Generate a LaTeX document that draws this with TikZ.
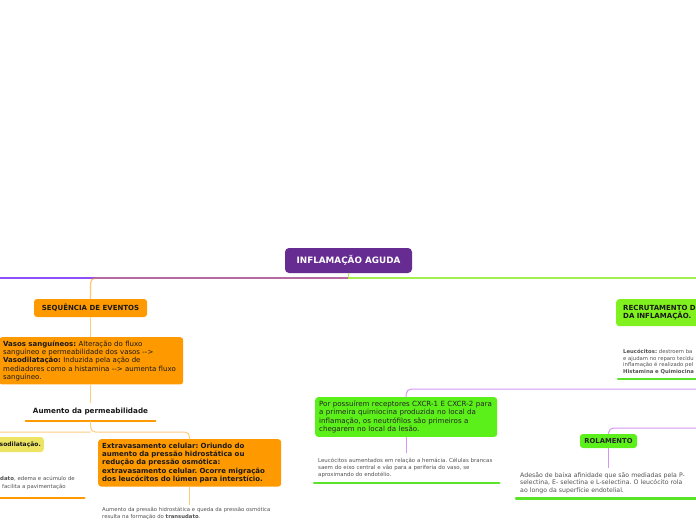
\documentclass[tikz,border=0pt]{standalone}
\usepackage{fontspec}
\setmainfont{DejaVu Sans}
\usepackage{xcolor}
\usetikzlibrary{positioning}
\definecolor{rootpurple}{RGB}{102,44,145}
\definecolor{evorange}{RGB}{255,153,0}
\definecolor{paleorange}{RGB}{255,205,130}
\definecolor{branchpurple}{RGB}{140,80,250}
\definecolor{branchgreen}{RGB}{165,238,80}
\definecolor{recrugreen}{RGB}{128,240,30}
\definecolor{neutgreen}{RGB}{92,240,26}
\definecolor{ulgreen}{RGB}{90,228,40}
\definecolor{lilac}{RGB}{212,150,245}
\definecolor{vasoyellow}{RGB}{238,228,100}
\definecolor{notegray}{RGB}{80,80,80}
\newcommand{\fsz}[2]{\fontsize{#1}{#2}\selectfont}
\frenchspacing

\begin{document}
\begin{tikzpicture}[x=1pt, y=-1pt,
    rootbox/.style={fill=rootpurple, text=white, rounded corners=4pt, minimum width=127pt, minimum height=25pt, font=\fsz{8.8}{10}\bfseries},
    orangebox/.style={fill=evorange, rounded corners=3pt, text=black!90},
    yellowbox/.style={fill=vasoyellow, rounded corners=3pt, text=black!90},
    greenbox/.style={fill=recrugreen, rounded corners=3pt, text=black!90},
    neutbox/.style={fill=neutgreen, rounded corners=3pt, text=black!85},
    notetext/.style={text=notegray, align=left, inner xsep=4pt},
    orangeline/.style={draw=paleorange, line width=1pt, rounded corners=5pt},
    lilacline/.style={draw=lilac, line width=1pt, rounded corners=5pt},
    orangeul/.style={draw=evorange, line width=2.5pt, line cap=round},
    greenul/.style={draw=ulgreen, line width=2.5pt, line cap=round}
]
\useasboundingbox (0,0) rectangle (696,520);

\node[rootbox] (root) at (348.5,260.5) {INFLAMAÇÃO AGUDA};

\node[orangebox, minimum width=113pt, minimum height=18pt, font=\fsz{7}{8}\bfseries] (seq) at (90.5,308) {SEQUÊNCIA DE EVENTOS};
\node[orangebox, anchor=north west, text width=176pt, inner xsep=4pt, inner ysep=3.5pt, align=left, font=\fsz{7}{8.3}] (vasos) at (-1,337) {\textbf{Vasos sanguíneos:} Alteração do fluxo\\ sanguíneo e permeabilidade dos vasos -{}->\\ \textbf{Vasodilatação:} Induzida pela ação de\\ mediadores como a histamina -{}-> aumenta fluxo\\ sanguíneo.};
\node[minimum width=129pt, minimum height=18pt, text=black!90, font=\fsz{7.2}{8}\bfseries] (perm) at (90.5,412) {Aumento da permeabilidade};
\node[yellowbox, anchor=east, text width=90pt, inner xsep=3pt, minimum height=15pt, align=right, font=\fsz{6}{8}\bfseries] (vasod) at (44,444.5) {sodilatação.};
\node[notetext, anchor=south west, text width=84pt, inner xsep=0pt, inner ysep=8pt, font=\fsz{5.4}{8.5}] (exsud) at (0,498) {\textbf{dato}, edema e acúmulo de\\ \hspace*{2pt}facilita a pavimentação};
\node[orangebox, anchor=north west, text width=175pt, inner xsep=4pt, inner ysep=3.5pt, align=left, font=\fsz{7}{8.4}\bfseries] (extr) at (98,439) {Extravasamento celular: Oriundo do\\ aumento da pressão hidrostática ou\\ redução da pressão osmótica:\\ extravasamento celular. Ocorre migração\\ dos leucócitos do lúmen para interstício.};
\node[notetext, anchor=north west, text width=182pt, inner ysep=2.5pt, font=\fsz{5.3}{6.8}] (trans) at (98,505) {Aumento da pressão hidrostática e queda da pressão osmótica\\ resulta na formação do \textbf{transudato}.};

\node[greenbox, anchor=north west, text width=100pt, inner xsep=7pt, minimum height=27pt, align=left, font=\fsz{7}{8}\bfseries] (recru) at (616,299) {RECRUTAMENTO D\\ DA INFLAMAÇÃO.};
\node[notetext, anchor=south west, text width=100pt, inner xsep=5pt, inner ysep=5pt, font=\fsz{5.3}{6.4}] (leuco) at (618,379) {\textbf{Leucócitos:} destroem ba\\ e ajudam no reparo tecidu\\ inflamação é realizado pel\\ \textbf{Histamina e Quimiocina}};
\node[neutbox, anchor=north west, text width=174pt, inner xsep=4pt, inner ysep=3.5pt, align=left, font=\fsz{7.1}{8.5}] (neut) at (315,397) {Por possuírem receptores CXCR-1 E CXCR-2 para\\ a primeira quimiocina produzida no local da\\ inflamação, os neutrófilos são primeiros a\\ chegarem no local da lesão.};
\node[notetext, anchor=north west, text width=177pt, inner ysep=5pt, font=\fsz{5.45}{7}] (leucnote) at (314,453) {Leucócitos aumentados em relação a hemácia. Células brancas\\ saem do eixo central e vão para a periferia do vaso, se\\ aproximando do endotélio.};
\node[neutbox, minimum width=57pt, minimum height=14pt, font=\fsz{6.8}{8}\bfseries] (rol) at (608.5,441) {ROLAMENTO};
\node[notetext, anchor=north west, text width=185pt, inner ysep=4.4pt, font=\fsz{6.2}{7.5}] (adesao) at (516,468) {Adesão de baixa afinidade que são mediadas pela P-\\ selectina, E- selectina e L-selectina. O leucócito rola\\ ao longo da superfície endotelial.};

\coordinate (hub) at (348.5,278);
\coordinate (offleft) at (-5,278);
\coordinate (offright) at (701,278);
\coordinate (permsplit) at (90.5,432);
\coordinate (lilacin) at (701,389);
\coordinate (lilacrol) at (701,428);

\draw[draw=branchpurple, line width=1.3pt] (hub) -- (offleft);
\draw[draw=branchgreen, line width=1.3pt] (root.south) |- (offright);
\draw[draw=evorange, opacity=0.55, line width=1.3pt, rounded corners=5pt] (hub) -| (seq.north);
\draw[orangeline] (seq.south) -- (seq.south |- vasos.north);
\draw[orangeline] (perm.north |- vasos.south) -- (perm.north);
\draw[orangeul] (perm.south west) -- (perm.south east);
\draw[orangeline] (perm.south) -- (permsplit) -| (extr.north);
\draw[orangeline] (permsplit) -| (vasod.north);
\draw[orangeul] (exsud.south west) -- (exsud.south east);
\draw[orangeline] (extr.south) -- (extr.south |- trans.north);

\draw[greenul] (leuco.south west) -- (leuco.south east);
\draw[lilacline] (lilacin) -| (neut.north);
\draw[lilacline] (neut.south) -- (neut.south |- leucnote.north);
\draw[greenul] (leucnote.south west) -- (leucnote.south east);
\draw[lilacline] (lilacrol) -| (rol.north);
\draw[lilacline] (rol.south) -- (rol.south |- adesao.north);
\draw[greenul] (adesao.south west) -- (adesao.south east);
\end{tikzpicture}
\end{document}
